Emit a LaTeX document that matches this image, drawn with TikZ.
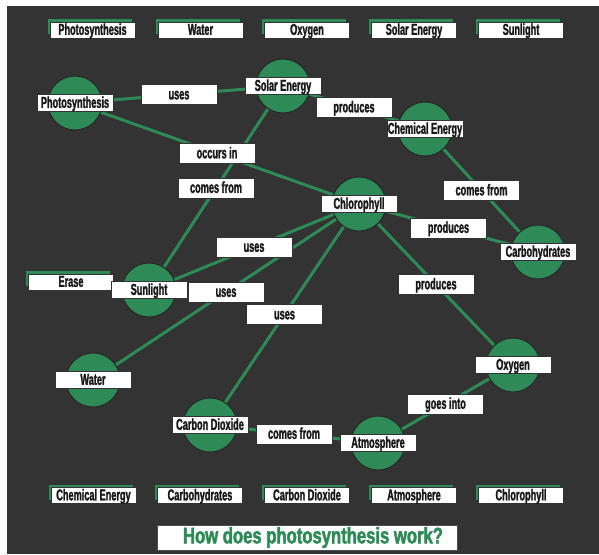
\documentclass[tikz,border=0pt]{standalone}
\usepackage{fontspec}
\newfontfamily\labfont{Liberation Sans Bold}[FakeStretch=0.58, FakeBold=1.6]
\newfontfamily\ttlfont{Liberation Sans Bold}[FakeStretch=0.74, FakeBold=2]
\usetikzlibrary{shadows,calc}
\definecolor{bgdark}{HTML}{333333}
\definecolor{cgreen}{HTML}{2E8B57}
\pgfdeclarelayer{bglayer}
\pgfdeclarelayer{edgelayer}
\pgfsetlayers{bglayer,edgelayer,main}
\tikzset{
  circ/.style={circle, fill=cgreen, draw=black!85, line width=0.9pt, minimum size=54pt, inner sep=0pt},
  clabel/.style={fill=white, draw=black!80, line width=0.8pt, minimum width=76pt, minimum height=17pt,
    inner sep=0pt, text=black!90, text height=11.2pt, text depth=1.5pt,
    font=\labfont\fontsize{15.8}{15.8}\selectfont},
  elabel/.style={clabel, minimum height=20pt},
  tile/.style={clabel, minimum width=85pt, minimum height=16pt,
    copy shadow={shadow xshift=-3pt, shadow yshift=3.5pt, fill=cgreen, draw=black!80, line width=0.6pt}},
  link/.style={draw=cgreen, line width=3pt},
  titlebox/.style={fill=white, draw=black!70, line width=0.8pt, minimum width=300pt, minimum height=25pt,
    inner sep=0pt, text=cgreen, font=\ttlfont\fontsize{22.5}{22.5}\selectfont}
}
\begin{document}
\begin{tikzpicture}[x=1pt,y=-1pt]
\begin{pgfonlayer}{bglayer}
  \fill[white] (0,0) rectangle (599,554);
  \fill[bgdark] (7,6) rectangle (599,554);
\end{pgfonlayer}
\useasboundingbox (0,0) rectangle (599,554);

% concept circles
\node[circ] (cPhoto) at (75,103) {};
\node[circ] (cSolar) at (283,86) {};
\node[circ] (cChem)  at (425,129) {};
\node[circ] (cChl)   at (359,204) {};
\node[circ] (cCarb)  at (538,252) {};
\node[circ] (cSun)   at (149,290) {};
\node[circ] (cWater) at (93,380) {};
\node[circ] (cCO2)   at (210,425) {};
\node[circ] (cOxy)   at (513,365) {};
\node[circ] (cAtm)   at (378,443) {};

% connectors
\begin{pgfonlayer}{edgelayer}
  \draw[link] (cPhoto) -- (cSolar);
  \draw[link] (cSolar) -- (cChem);
  \draw[link] (cPhoto) -- (cChl);
  \draw[link] (cSolar) -- (cSun);
  \draw[link] (cChem) -- (cCarb);
  \draw[link] (cChl) -- (cCarb);
  \draw[link] (cChl) -- (cSun);
  \draw[link] (cChl) -- (cWater);
  \draw[link] (cChl) -- (cCO2);
  \draw[link] (cChl) -- (cOxy);
  \draw[link] (cOxy) -- (cAtm);
  \draw[link] (cCO2) -- (cAtm);
\end{pgfonlayer}

% word bank
\node[tile] (tPhoto) at (92.5,30) {Photosynthesis};
\node[tile] (tWater) at (200.5,30) {Water};
\node[tile] (tOxy)   at (307,30) {Oxygen};
\node[tile] (tSolar) at (414,30) {Solar Energy};
\node[tile] (tSun)   at (521,30) {Sunlight};
\node[tile] (tChem)  at (93.5,495.5) {Chemical Energy};
\node[tile] (tCarb)  at (200,495.5) {Carbohydrates};
\node[tile] (tCO2)   at (307,495.5) {Carbon Dioxide};
\node[tile] (tAtm)   at (414,495.5) {Atmosphere};
\node[tile] (tChl)   at (521,495.5) {Chlorophyll};
\node[tile] (tErase) at (71,282) {Erase};

% concept labels
\node[clabel] (lPhoto) at (cPhoto) {Photosynthesis};
\node[clabel] (lSolar) at (cSolar) {Solar Energy};
\node[clabel] (lChem)  at (cChem) {Chemical Energy};
\node[clabel] (lChl)   at (cChl) {Chlorophyll};
\node[clabel] (lCarb)  at (cCarb) {Carbohydrates};
\node[clabel] (lSun)   at (cSun) {Sunlight};
\node[clabel] (lWater) at (cWater) {Water};
\node[clabel] (lCO2)   at (cCO2) {Carbon Dioxide};
\node[clabel] (lOxy)   at (cOxy) {Oxygen};
\node[clabel] (lAtm)   at (cAtm) {Atmosphere};

% link labels
\node[elabel] (eUses1) at ($(cPhoto)!0.5!(cSolar)$) {uses};
\node[elabel] (eProd1) at ($(cSolar)!0.5!(cChem)$) {produces};
\node[elabel] (eOcc)   at ($(cPhoto)!0.5!(cChl)$) {occurs in};
\node[elabel] (eCome1) at ($(cSolar)!0.5!(cSun)$) {comes from};
\node[elabel] (eCome2) at ($(cChem)!0.5!(cCarb)$) {comes from};
\node[elabel] (eProd2) at ($(cChl)!0.5!(cCarb)$) {produces};
\node[elabel] (eUses2) at ($(cChl)!0.5!(cSun)$) {uses};
\node[elabel] (eUses3) at ($(cChl)!0.5!(cWater)$) {uses};
\node[elabel] (eUses4) at ($(cChl)!0.5!(cCO2)$) {uses};
\node[elabel] (eProd3) at ($(cChl)!0.5!(cOxy)$) {produces};
\node[elabel] (eGoes)  at ($(cOxy)!0.5!(cAtm)$) {goes into};
\node[elabel] (eCome3) at ($(cCO2)!0.5!(cAtm)$) {comes from};

% title
\node[titlebox] (title) at (307,537.5) {\hspace*{12pt}How does photosynthesis work?};
\end{tikzpicture}
\end{document}
